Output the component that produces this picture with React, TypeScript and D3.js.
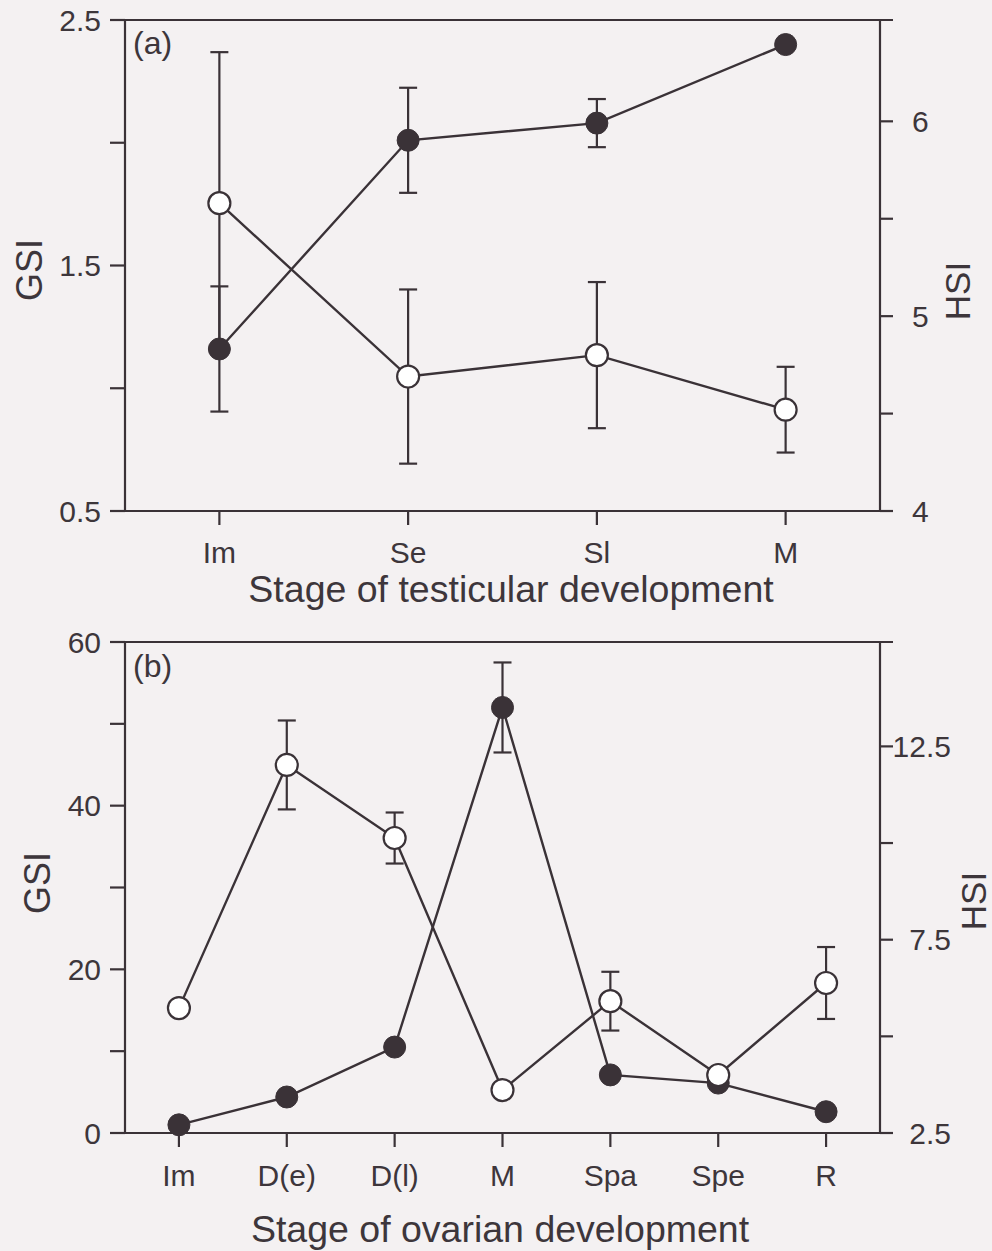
import React from "react";
import * as d3 from "d3";

// ---------- Data ----------
const TESTIS_STAGES = ["Im", "Se", "Sl", "M"];
const TESTIS_GSI = [1.16, 2.01, 2.08, 2.4];
const TESTIS_GSI_ERR = [0.255, 0.214, 0.098, 0];
const TESTIS_HSI = [5.58, 4.69, 4.8, 4.52];
const TESTIS_HSI_ERR = [0.775, 0.447, 0.375, 0.22];

const OVARY_STAGES = ["Im", "D(e)", "D(l)", "M", "Spa", "Spe", "R"];
const OVARY_GSI = [1.0, 4.4, 10.5, 52.0, 7.1, 6.1, 2.6];
const OVARY_GSI_ERR = [0, 0, 0, 5.5, 0, 0, 0];
const OVARY_HSI = [5.73, 12.02, 10.13, 3.61, 5.91, 4.0, 6.38];
const OVARY_HSI_ERR = [0, 1.15, 0.66, 0, 0.76, 0, 0.93];

const A_GSI_TICKS = [0.5, 1, 1.5, 2, 2.5];
const A_GSI_LABELS = ["0.5", "1.5", "2.5"];
const A_HSI_TICKS = [4, 4.5, 5, 5.5, 6];
const A_HSI_LABELS = ["4", "5", "6"];
const B_GSI_TICKS = [0, 10, 20, 30, 40, 50, 60];
const B_GSI_LABELS = ["0", "20", "40", "60"];
const B_HSI_TICKS = [2.5, 5, 7.5, 10, 12.5];
const B_HSI_LABELS = ["2.5", "7.5", "12.5"];

const INK = "#3a3237";
const TEXT = "#3d363b";
const BG = "#f4f1f2";
const FONT = "'Liberation Sans', Arial, Helvetica, sans-serif";

const X0 = 125;
const X1 = 880;

type PanelProps = {
  top: number;
  bottom: number;
  cats: string[];
  gsi: number[];
  gsiErr: number[];
  hsi: number[];
  hsiErr: number[];
  gsiDomain: [number, number];
  hsiDomain: [number, number];
  gsiTicks: number[];
  gsiLabels: string[];
  hsiTicks: number[];
  hsiLabels: string[];
  hsiLabelAnchor: "start" | "end";
  hsiLabelX: number;
  tag: string;
  tagBaseline: number;
  xTitle: string;
  xTitleX: number;
  xTitleBaseline: number;
  xLabelBaseline: number;
  gsiTitle: [number, number];
  hsiTitle: [number, number];
};

function Panel(p: PanelProps) {
  const x = d3.scalePoint<string>().domain(p.cats).range([X0, X1]).padding(0.5);
  const yL = d3.scaleLinear().domain(p.gsiDomain).range([p.bottom, p.top]);
  const yR = d3.scaleLinear().domain(p.hsiDomain).range([p.bottom, p.top]);
  const line = d3.line<number>().x((_, i) => x(p.cats[i]) as number);
  const gsiPath = line.y((v) => yL(v))(p.gsi) || "";
  const hsiPath = line.y((v) => yR(v))(p.hsi) || "";
  const r = 11;
  const cap = 9;

  const errBars = (vals: number[], errs: number[], y: d3.ScaleLinear<number, number>, key: string) =>
    vals.map((v, i) => {
      if (!errs[i]) return null;
      const cx = x(p.cats[i]) as number;
      const yt = y(v + errs[i]);
      const yb = y(v - errs[i]);
      return (
        <g key={key + i} stroke={INK} strokeWidth={2.2}>
          <line x1={cx} x2={cx} y1={yt} y2={yb} />
          <line x1={cx - cap} x2={cx + cap} y1={yt} y2={yt} />
          <line x1={cx - cap} x2={cx + cap} y1={yb} y2={yb} />
        </g>
      );
    });

  return (
    <g>
      {/* frame */}
      <g stroke={INK} strokeWidth={2.2} fill="none">
        <line x1={110} x2={893} y1={p.top} y2={p.top} />
        <line x1={110} x2={893} y1={p.bottom} y2={p.bottom} />
        <line x1={X0} x2={X0} y1={p.top} y2={p.bottom} />
        <line x1={X1} x2={X1} y1={p.top} y2={p.bottom} />
        {p.gsiTicks.map((t) => (
          <line key={"lt" + t} x1={110} x2={X0} y1={yL(t)} y2={yL(t)} />
        ))}
        {p.hsiTicks.map((t) => (
          <line key={"rt" + t} x1={X1} x2={893} y1={yR(t)} y2={yR(t)} />
        ))}
        {p.cats.map((c) => (
          <line key={"bt" + c} x1={x(c) as number} x2={x(c) as number} y1={p.bottom} y2={p.bottom + 14} />
        ))}
      </g>
      {/* tick labels */}
      <g fill={TEXT} fontFamily={FONT} fontSize={30}>
        {p.gsiLabels.map((l) => (
          <text key={"ll" + l} x={101} y={yL(+l)} dy="0.36em" textAnchor="end">
            {l}
          </text>
        ))}
        {p.hsiLabels.map((l) => (
          <text key={"rl" + l} x={p.hsiLabelX} y={yR(+l)} dy="0.36em" textAnchor={p.hsiLabelAnchor}>
            {l}
          </text>
        ))}
        {p.cats.map((c) => (
          <text key={"xl" + c} x={x(c) as number} y={p.xLabelBaseline} textAnchor="middle">
            {c}
          </text>
        ))}
      </g>
      {/* titles */}
      <g fill={TEXT} fontFamily={FONT}>
        <text x={133} y={p.tagBaseline} fontSize={32}>
          {p.tag}
        </text>
        <text x={p.xTitleX} y={p.xTitleBaseline} fontSize={37.5} textAnchor="middle">
          {p.xTitle}
        </text>
        <text
          transform={`translate(${p.gsiTitle[0]},${p.gsiTitle[1]}) rotate(-90)`}
          fontSize={36}
          textAnchor="middle"
        >
          GSI
        </text>
        <text
          transform={`translate(${p.hsiTitle[0]},${p.hsiTitle[1]}) rotate(-90)`}
          fontSize={35}
          textAnchor="middle"
        >
          HSI
        </text>
      </g>
      {/* series lines */}
      <path d={gsiPath} fill="none" stroke={INK} strokeWidth={2.4} />
      <path d={hsiPath} fill="none" stroke={INK} strokeWidth={2.4} />
      {/* error bars */}
      {errBars(p.gsi, p.gsiErr, yL, "ge")}
      {errBars(p.hsi, p.hsiErr, yR, "he")}
      {/* markers */}
      {p.gsi.map((v, i) => (
        <circle key={"gc" + i} cx={x(p.cats[i]) as number} cy={yL(v)} r={r} fill={INK} stroke={INK} strokeWidth={1} />
      ))}
      {p.hsi.map((v, i) => (
        <circle key={"hc" + i} cx={x(p.cats[i]) as number} cy={yR(v)} r={r} fill="#ffffff" stroke={INK} strokeWidth={2.2} />
      ))}
    </g>
  );
}

export default function App() {
  return (
    <svg
      width={992}
      height={1251}
      viewBox="0 0 992 1251"
      style={{ position: "absolute", left: 0, top: 0, display: "block" }}
    >
      <rect x={0} y={0} width={992} height={1251} fill={BG} />
      <Panel
        top={20}
        bottom={511}
        cats={TESTIS_STAGES}
        gsi={TESTIS_GSI}
        gsiErr={TESTIS_GSI_ERR}
        hsi={TESTIS_HSI}
        hsiErr={TESTIS_HSI_ERR}
        gsiDomain={[0.5, 2.5]}
        hsiDomain={[4, 6.52]}
        gsiTicks={A_GSI_TICKS}
        gsiLabels={A_GSI_LABELS}
        hsiTicks={A_HSI_TICKS}
        hsiLabels={A_HSI_LABELS}
        hsiLabelAnchor="start"
        hsiLabelX={912}
        tag="(a)"
        tagBaseline={54}
        xTitle="Stage of testicular development"
        xTitleX={511}
        xTitleBaseline={602}
        xLabelBaseline={563}
        gsiTitle={[42, 270]}
        hsiTitle={[970, 291]}
      />
      <Panel
        top={642}
        bottom={1133}
        cats={OVARY_STAGES}
        gsi={OVARY_GSI}
        gsiErr={OVARY_GSI_ERR}
        hsi={OVARY_HSI}
        hsiErr={OVARY_HSI_ERR}
        gsiDomain={[0, 60]}
        hsiDomain={[2.5, 15.2]}
        gsiTicks={B_GSI_TICKS}
        gsiLabels={B_GSI_LABELS}
        hsiTicks={B_HSI_TICKS}
        hsiLabels={B_HSI_LABELS}
        hsiLabelAnchor="end"
        hsiLabelX={951}
        tag="(b)"
        tagBaseline={677}
        xTitle="Stage of ovarian development"
        xTitleX={500}
        xTitleBaseline={1242}
        xLabelBaseline={1186}
        gsiTitle={[50, 883]}
        hsiTitle={[986, 901]}
      />
    </svg>
  );
}
